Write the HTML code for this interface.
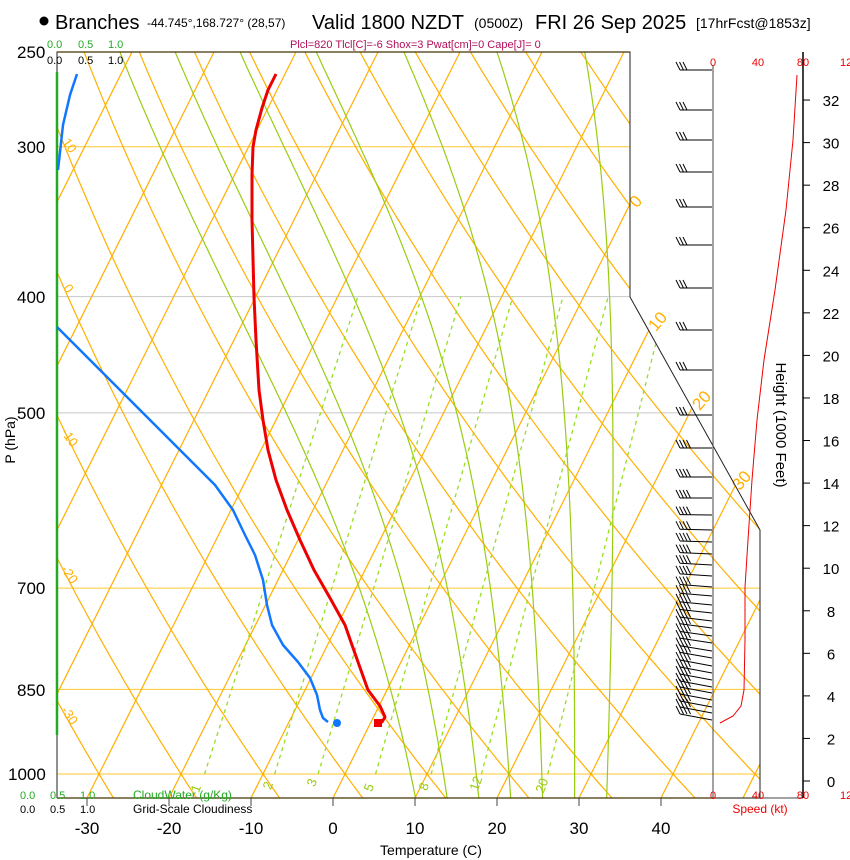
<!DOCTYPE html>
<html><head><meta charset="utf-8"><style>
body{margin:0;background:#fff;}
svg{display:block;font-family:"Liberation Sans",Arial,sans-serif;}
</style></head><body>
<svg id="s" width="850" height="860" viewBox="0 0 850 860" xmlns="http://www.w3.org/2000/svg">
<defs><clipPath id="cp"><polygon points="57,52 630,52 630,297 760,530 760,798 57,798"/></clipPath></defs>
<g id="bg" clip-path="url(#cp)"></g>
<g id="fg"></g>
<circle cx="44" cy="21" r="4.5" fill="#000"/>
<text x="55" y="29" font-size="20">Branches</text>
<text x="147" y="27" font-size="12">-44.745°,168.727° (28,57)</text>
<text x="312" y="29" font-size="20">Valid 1800 NZDT</text>
<text x="474" y="28" font-size="14">(0500Z)</text>
<text x="535" y="29" font-size="20">FRI 26 Sep 2025</text>
<text x="696" y="28" font-size="14">[17hrFcst@1853z]</text>
<text x="290" y="48" font-size="11" fill="#b0105a">Plcl=820 Tlcl[C]=-6 Shox=3 Pwat[cm]=0 Cape[J]= 0</text>
<text x="47" y="48" font-size="11" fill="#22aa22">0.0</text><text x="78" y="48" font-size="11" fill="#22aa22">0.5</text><text x="108" y="48" font-size="11" fill="#22aa22">1.0</text>
<text x="47" y="64" font-size="11">0.0</text><text x="78" y="64" font-size="11">0.5</text><text x="108" y="64" font-size="11">1.0</text>
<text x="17" y="58" font-size="17">250</text>
<text x="17" y="153" font-size="17">300</text>
<text x="17" y="303" font-size="17">400</text>
<text x="17" y="419" font-size="17">500</text>
<text x="17" y="594" font-size="17">700</text>
<text x="17" y="696" font-size="17">850</text>
<text x="8" y="780" font-size="17">1000</text>
<text transform="translate(15,440) rotate(-90)" font-size="14" text-anchor="middle">P (hPa)</text>
<text x="20" y="799" font-size="11" fill="#22aa22">0.0</text><text x="50" y="799" font-size="11" fill="#22aa22">0.5</text><text x="80" y="799" font-size="11" fill="#22aa22">1.0</text><text x="133" y="799" font-size="12" fill="#22aa22">CloudWater (g/Kg)</text>
<text x="20" y="813" font-size="11">0.0</text><text x="50" y="813" font-size="11">0.5</text><text x="80" y="813" font-size="11">1.0</text><text x="133" y="813" font-size="12">Grid-Scale Cloudiness</text>
<text x="431" y="855" font-size="14" text-anchor="middle">Temperature (C)</text>
<text transform="translate(776,425) rotate(90)" font-size="15" text-anchor="middle">Height (1000 Feet)</text>
<text x="713" y="66" font-size="11" fill="#ee0000" text-anchor="middle">0</text>
<text x="758" y="66" font-size="11" fill="#ee0000" text-anchor="middle">40</text>
<text x="803" y="66" font-size="11" fill="#ee0000" text-anchor="middle">80</text>
<text x="840" y="66" font-size="11" fill="#ee0000">12</text>
<text x="713" y="799" font-size="11" fill="#ee0000" text-anchor="middle">0</text>
<text x="758" y="799" font-size="11" fill="#ee0000" text-anchor="middle">40</text>
<text x="803" y="799" font-size="11" fill="#ee0000" text-anchor="middle">80</text>
<text x="840" y="799" font-size="11" fill="#ee0000">12</text>
<text x="760" y="813" font-size="12" fill="#ee0000" text-anchor="middle">Speed (kt)</text>
</svg>
<script>
(function(){
var NS="http://www.w3.org/2000/svg";
var bg=document.getElementById('bg'),fg=document.getElementById('fg');
function el(p,t,a,txt){var e=document.createElementNS(NS,t);for(var k in a)e.setAttribute(k,a[k]);if(txt!=null)e.textContent=txt;p.appendChild(e);return e;}
function Y(p){return 774+521*Math.log(p/1000);}
function X(T,p){return 333+8.2*T+0.5*(798-Y(p));}
function poly(pts){return pts.map(function(q){return q[0].toFixed(1)+','+q[1].toFixed(1)}).join(' ');}
var OR="#ffb000",GR="#99cc11";
[[300,630,"#ffc830"],[400,630,"#c8c8c8"],[500,695,"#c8c8c8"],[700,760,"#ffc830"],[850,760,"#ffc830"],[1000,760,"#ffc830"]].forEach(function(b){var y=Y(b[0]);el(bg,'line',{x1:57,y1:y,x2:b[1],y2:y,stroke:b[2],'stroke-width':1});});
for(var T=-130;T<=60;T+=10){el(bg,'line',{x1:X(T,1060),y1:Y(1060),x2:X(T,240),y2:Y(240),stroke:OR,'stroke-width':1.2});}
for(var th=-60;th<=200;th+=10){var pts=[];for(var p=1060;p>=240;p-=10){var Tk=(th+273.15)*Math.pow(p/1000,0.2857);pts.push([X(Tk-273.15,p),Y(p)]);}el(bg,'polyline',{points:poly(pts),fill:'none',stroke:OR,'stroke-width':1.2});}
function es(Tc){return 6.112*Math.exp(17.67*Tc/(Tc+243.5));}
function dTdp(Tk,p){var Tc=Tk-273.15,e=es(Tc),rs=0.622*e/(p-e),Lv=2.5e6,Rd=287,Cp=1005;return (Rd*Tk+Lv*rs)/(p*(Cp+Lv*Lv*rs*0.622/(Rd*Tk*Tk)));}
[8,12,16,20,24,28,32].forEach(function(tw){var up=[],dn=[];var Tk=tw+273.15,p;for(p=1000;p>=240;p-=2){up.push([X(Tk-273.15,p),Y(p)]);Tk-=dTdp(Tk,p)*2;}Tk=tw+273.15;for(p=1000;p<=1060;p+=2){dn.unshift([X(Tk-273.15,p),Y(p)]);Tk+=dTdp(Tk,p)*2;}el(bg,'polyline',{points:poly(dn.concat(up)),fill:'none',stroke:GR,'stroke-width':1.2});});
[[1,200,790],[2,272,787],[3,316,784],[5,373,789],[8,428,788],[12,480,785],[20,546,787]].forEach(function(m){var w=m[0]/1000;var pts=[];[1000,400].forEach(function(p){var e=w*p/(0.622+w);var l=Math.log(e/6.112);var Td=243.5*l/(17.67-l);pts.push([X(Td,p),Y(p)]);});el(bg,'line',{x1:pts[0][0],y1:pts[0][1],x2:pts[1][0],y2:pts[1][1],stroke:"#99dd22",'stroke-width':1.3,'stroke-dasharray':'4,4'});el(fg,'text',{x:m[1],y:m[2],'font-size':13,fill:"#99cc11",'text-anchor':'middle',transform:'rotate(-70 '+m[1]+' '+m[2]+')'},String(m[0]));});
[["0",640,205],["10",662,325],["20",706,404],["30",746,484]].forEach(function(l){el(fg,'text',{x:l[1],y:l[2],'font-size':17,fill:OR,'text-anchor':'middle',transform:'rotate(-50 '+l[1]+' '+l[2]+')'},l[0]);});
[["10",66,148],["0",65,291],["-10",66,440],["-20",66,577],["-30",66,718]].forEach(function(l){el(fg,'text',{x:l[1],y:l[2],'font-size':13,fill:OR,'text-anchor':'middle',transform:'rotate(55 '+l[1]+' '+l[2]+')'},l[0]);});
el(fg,'polyline',{points:"57,798 57,52 630,52 630,297 760,530 760,798",fill:'none',stroke:'#222','stroke-width':1});
el(fg,'line',{x1:57,y1:52,x2:630,y2:52,stroke:'#443300','stroke-width':1.3});
el(fg,'line',{x1:57,y1:798,x2:760,y2:798,stroke:'#443300','stroke-width':1.3});
el(fg,'line',{x1:57,y1:72,x2:57,y2:735,stroke:'#22aa22','stroke-width':2.5});
for(var t=-30;t<=40;t+=10){var x=333+8.2*t;el(fg,'line',{x1:x,y1:798,x2:x,y2:806,stroke:'#444'});el(fg,'text',{x:x,y:834,'font-size':17,'text-anchor':'middle'},String(t));}
el(fg,'line',{x1:713,y1:65,x2:713,y2:798,stroke:'#444','stroke-width':1});
el(fg,'line',{x1:713,y1:798,x2:803,y2:798,stroke:'#444'});
el(fg,'line',{x1:803,y1:52,x2:803,y2:798,stroke:'#000','stroke-width':1.5});
for(var h=0;h<=32;h+=2){var y=781-h*21.28;el(fg,'line',{x1:803,y1:y,x2:810,y2:y,stroke:'#000'});el(fg,'text',{x:831,y:y+6,'font-size':15,'text-anchor':'middle'},String(h));}
var ys=[70,110,140,172,207,245,288,330,370,415,448,477,498,515,530,542,554,565,576,587,596,605,613,621,628,636,643,651,658,666,673,680,687,693,700,707,713,720];
ys.forEach(function(y,i){var n=i<10?3:4;var dy=i>12?Math.min(6,(i-12)*0.35):0;el(fg,'line',{x1:712,y1:y,x2:680,y2:y-dy,stroke:'#000','stroke-width':1});for(var k=0;k<n;k++){var bx=680+k*3.5;el(fg,'line',{x1:bx,y1:y-dy,x2:bx-4,y2:y-dy-8,stroke:'#000','stroke-width':1});}});
el(fg,'polyline',{points:"720,723 733,716 741,706 744,690 745,640 745,587 748,540 752,480 757,420 764,360 775,290 786,210 793,140 797,75",fill:'none',stroke:'#ee0000','stroke-width':1});
el(fg,'polyline',{points:"276,74 268,90 262,108 256,130 253,147 252,175 252,220 254,297 256,340 259,390 263,420 268,450 276,480 287,510 300,540 314,570 330,598 345,625 352,645 358,662 368,690 380,706 385,717 382,722 378,723",fill:'none',stroke:'#ee0000','stroke-width':3,'stroke-linejoin':'round'});
el(fg,'rect',{x:374,y:719,width:8,height:8,fill:'#ee0000'});
el(fg,'polyline',{points:"77,74 70,95 63,125 58,170",fill:'none',stroke:'#1177ff','stroke-width':2.5});
el(fg,'polyline',{points:"57,327 80,350 110,380 140,410 170,440 195,465 215,485 233,510 245,535 255,555 263,580 267,605 272,625 283,645 298,662 310,678 317,695 320,710 323,718 328,722",fill:'none',stroke:'#1177ff','stroke-width':2.5,'stroke-linejoin':'round'});
el(fg,'circle',{cx:337,cy:723,r:4,fill:'#1177ff'});
})();
</script>
</body></html>
